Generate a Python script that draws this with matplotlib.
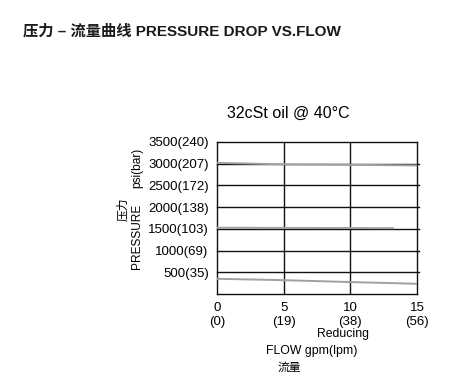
import matplotlib
matplotlib.use("Agg")
import matplotlib.pyplot as plt

plt.rcParams['font.family'] = ['Liberation Sans', 'Noto Sans CJK SC', 'DejaVu Sans']

# Data
flow_ticks = [0, 5, 10, 15]
flow_tick_labels = ["0\n(0)", "5\n(19)", "10\n(38)", "15\n(56)"]
pressure_ticks = [500, 1000, 1500, 2000, 2500, 3000, 3500]
pressure_tick_labels = ["500(35)", "1000(69)", "1500(103)", "2000(138)",
                        "2500(172)", "3000(207)", "3500(240)"]

curve_hi_flow = [0, 5, 10, 15]
curve_hi_p = [3020, 2985, 2975, 2960]
curve_mid_flow = [0, 5, 10, 13.2]
curve_mid_p = [1525, 1522, 1518, 1515]
curve_lo_flow = [0, 5, 10, 15]
curve_lo_p = [350, 318, 275, 235]

fig = plt.figure(figsize=(4.69, 3.90), dpi=100)
ax = fig.add_axes([0.4627, 0.2462, 0.4264, 0.3897])
ax.set_xlim(0, 15)
ax.set_ylim(0, 3500)

for p in pressure_ticks[:-1]:
    ax.axhline(p, xmin=0, xmax=1.01, color='#111111', lw=1.0, clip_on=False, zorder=2)
for f in flow_ticks[1:-1]:
    ax.axvline(f, color='#111111', lw=1.0, zorder=2)

for fx, py in [(curve_hi_flow, curve_hi_p), (curve_mid_flow, curve_mid_p), (curve_lo_flow, curve_lo_p)]:
    ax.plot(fx, py, color='#a0a0a0', lw=1.4, zorder=3)

for s in ax.spines.values():
    s.set_color('#111111')
    s.set_linewidth(1.0)

ax.set_xticks(flow_ticks)
ax.set_xticklabels(flow_tick_labels, fontsize=9.5, linespacing=1.2)
ax.set_yticks(pressure_ticks)
ax.set_yticklabels(pressure_tick_labels, fontsize=9.5)
ax.tick_params(length=0, pad=6)

fig.text(288/469, 1 - 113/390, "32cSt oil @ 40°C", fontsize=11.5, ha='center', va='center')

fig.text(23/469, 1 - 31/390, "压力 – 流量曲线 PRESSURE DROP VS.FLOW", fontsize=11,
         fontweight='bold', va='center', ha='left', color='#1a1a1a')

fig.text(123/469, 1 - 209/390, "压力", rotation=90, fontsize=8.5, ha='center', va='center')
fig.text(137/469, 1 - 236/390, "PRESSURE", rotation=90, fontsize=8.6, ha='center', va='center')
fig.text(137/469, 1 - 168/390, "psi(bar)", rotation=90, fontsize=8.6, ha='center', va='center')

fig.text(343/469, 1 - 334/390, "Reducing", fontsize=8.8, ha='center', va='center')
fig.text(312/469, 1 - 351/390, "FLOW gpm(lpm)", fontsize=8.8, ha='center', va='center')
fig.text(289/469, 1 - 368/390, "流量", fontsize=8.5, ha='center', va='center')

fig.savefig("out.png", dpi=100)
